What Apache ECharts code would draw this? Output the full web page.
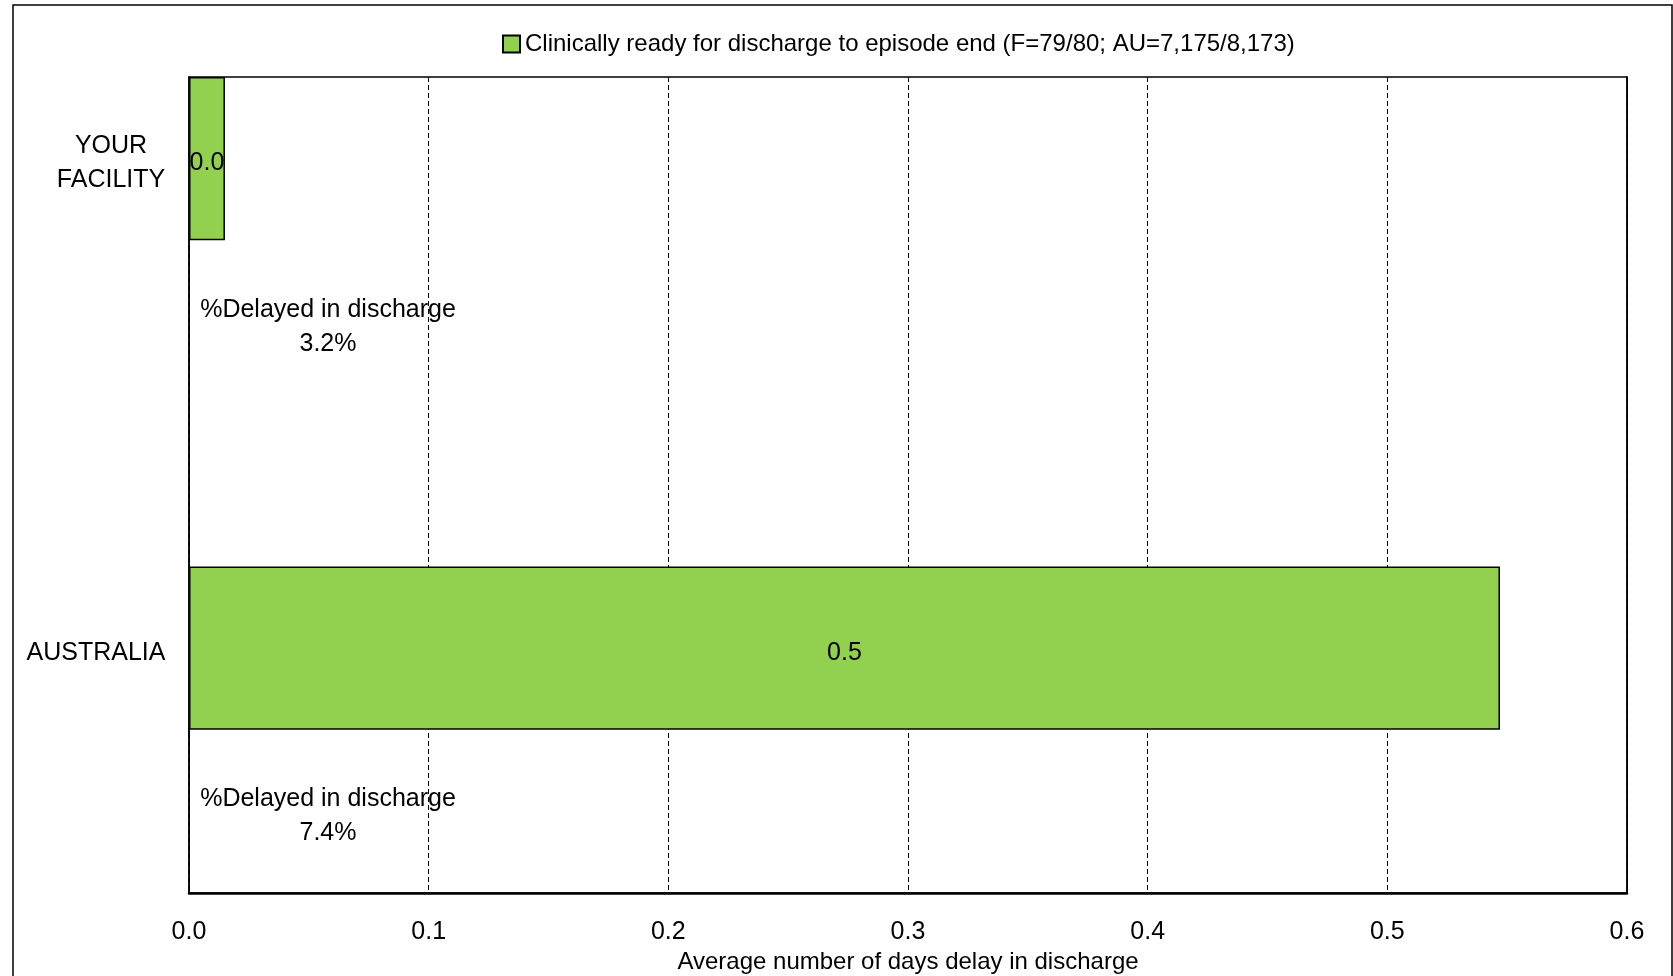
<!DOCTYPE html>
<html>
<head>
<meta charset="utf-8">
<script src="https://cdn.jsdelivr.net/npm/echarts@6/dist/echarts.min.js"></script>
<style>
  html, body { margin: 0; padding: 0; background: #fff; }
  #chart { width: 1673px; height: 976px; }
</style>
</head>
<body>
<div id="chart"></div>
<script>
// ---- data ----
const facilities = ['YOUR\nFACILITY', 'AUSTRALIA'];
const avgDelayDays = [0.015, 0.547];
const pctDelayed = ['3.2%', '7.4%'];
const seriesName = 'Clinically ready for discharge to episode end (F=79/80; AU=7,175/8,173)';
const xTicks = [0.0, 0.1, 0.2, 0.3, 0.4, 0.5, 0.6];
const xAxisTitle = 'Average number of days delay in discharge';

// ---- layout: each facility uses a bar slot, a text slot; spacer slot between facilities ----
const FONT = '"Liberation Sans", Arial, sans-serif';
const slots = [];
const barData = [];
const textData = [];
facilities.forEach((f, i) => {
  if (i > 0) { slots.push(''); barData.push(null); }
  slots.push(f); barData.push(avgDelayDays[i]);
  slots.push(''); barData.push(null);
  textData.push({ value: [0.058, slots.length - 1], txt: '%Delayed in discharge\n' + pctDelayed[i] });
});

const chart = echarts.init(document.getElementById('chart'), null, { renderer: 'canvas' });
chart.setOption({
  backgroundColor: '#ffffff',
  animation: false,
  textStyle: { fontFamily: FONT },
  graphic: [{
    type: 'rect',
    shape: { x: 13, y: 5, width: 1659, height: 990 },
    style: { fill: 'none', stroke: '#000', lineWidth: 1.5 },
    silent: true
  }],
  legend: {
    top: 27,
    left: 497,
    itemWidth: 17,
    itemHeight: 17,
    itemGap: 5,
    icon: 'rect',
    textStyle: { fontSize: 24, color: '#000', fontFamily: FONT },
    data: [seriesName]
  },
  grid: {
    left: 189, right: 46, top: 77, bottom: 83,
    show: true, borderColor: '#000', borderWidth: 1.5,
    containLabel: false, outerBoundsMode: 'none'
  },
  xAxis: {
    type: 'value',
    min: xTicks[0],
    max: xTicks[xTicks.length - 1],
    interval: 0.1,
    name: xAxisTitle,
    nameLocation: 'middle',
    nameGap: 56,
    nameTextStyle: { fontSize: 24, color: '#000', fontFamily: FONT },
    axisLine: { show: true, lineStyle: { color: '#000', width: 2.5 } },
    axisTick: { show: false },
    axisLabel: {
      fontSize: 25, color: '#000', margin: 27, fontFamily: FONT,
      formatter: v => v.toFixed(1)
    },
    splitLine: { show: true, lineStyle: { color: '#000', width: 1, type: [5, 3] } }
  },
  yAxis: [{
    type: 'category',
    inverse: true,
    data: slots,
    axisLine: { show: true, lineStyle: { color: '#000', width: 1.5 } },
    axisTick: { show: false },
    splitLine: { show: false },
    axisLabel: {
      fontSize: 25, color: '#000', align: 'center', margin: 78, lineHeight: 34,
      fontFamily: FONT, interval: 0,
      formatter: v => v === '' ? '' : (v === 'AUSTRALIA' ? '{s|' + v + '}' : v.split('\n').map(t => '{n|' + t + '}').join('\n')),
      rich: {
        s: { fontSize: 25, color: '#000', lineHeight: 34, padding: [10, 30, 0, 0], fontFamily: FONT },
        n: { fontSize: 25, color: '#000', lineHeight: 34, padding: [10, 0, 0, 0], fontFamily: FONT }
      }
    }
  }, {
    type: 'category',
    inverse: true,
    position: 'right',
    data: slots,
    axisLine: { show: true, onZero: false, lineStyle: { color: '#000', width: 1.5 } },
    axisTick: { show: false },
    axisLabel: { show: false },
    splitLine: { show: false }
  }],
  series: [
    {
      name: seriesName,
      type: 'bar',
      data: barData,
      barWidth: '100%',
      itemStyle: { color: '#92D050', borderColor: '#000', borderWidth: 1.5 },
      label: {
        show: true, position: 'inside', color: '#000', fontSize: 25, fontFamily: FONT,
        textBorderWidth: 0, offset: [0, 5],
        formatter: p => p.value == null ? '' : Number(p.value).toFixed(1)
      }
    },
    {
      name: 'pct',
      type: 'scatter',
      symbolSize: 0,
      itemStyle: { color: '#000', opacity: 1 },
      data: textData.map(d => ({ value: d.value, txt: d.txt })),
      label: {
        show: true, position: 'inside', color: '#000', fontSize: 25, lineHeight: 34,
        fontFamily: FONT, align: 'center', textBorderWidth: 0, opacity: 1,
        offset: [0, 5],
        formatter: p => p.data.txt
      },
      silent: true
    }
  ]
});
</script>
</body>
</html>
